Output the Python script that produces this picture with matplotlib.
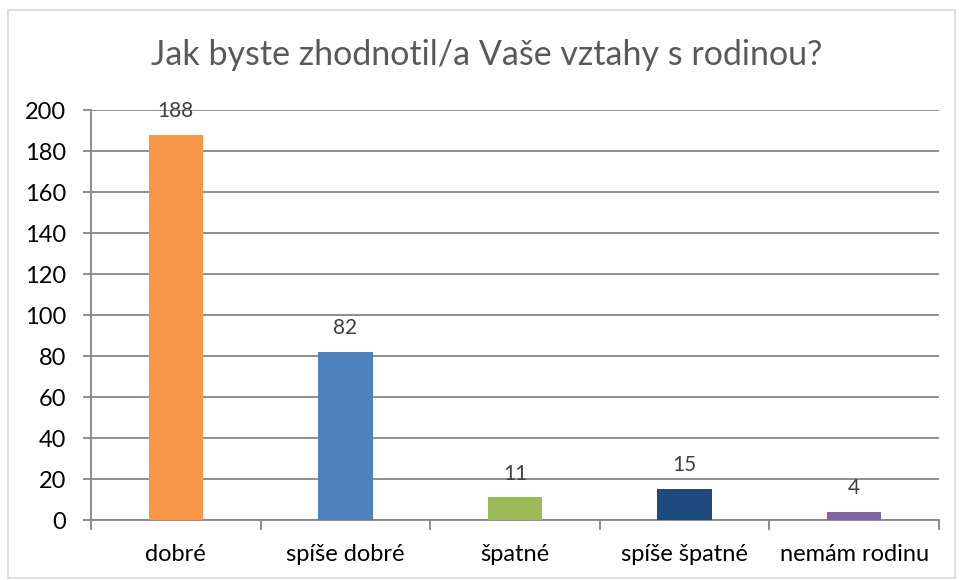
import matplotlib.pyplot as plt
from matplotlib.patches import Rectangle

categories = ['dobré', 'spíše dobré', 'špatné', 'spíše špatné', 'nemám rodinu']
values = [188, 82, 11, 15, 4]
colors = ['#F79646', '#4F81BD', '#9BBB59', '#1F497D', '#8064A2']

plt.rcParams['font.family'] = ['Lato', 'DejaVu Sans']

fig = plt.figure(figsize=(9.59, 5.80), dpi=100)
ax = fig.add_axes([0.0949, 0.1034, 0.8842, 0.7069])

# light outer border of the chart area
fig.patches.append(Rectangle((8 / 959, 2 / 580), 947 / 959, 568 / 580,
                             transform=fig.transFigure, fill=False,
                             edgecolor='#D9D9D9', linewidth=1.2))

x = range(len(categories))
bars = ax.bar(x, values, width=0.32, color=colors, zorder=3)

for b, v in zip(bars, values):
    ax.annotate(str(v), (b.get_x() + b.get_width() / 2, v),
                xytext=(0, 10), textcoords='offset points',
                ha='center', va='bottom', fontsize=15, color='#404040')

ax.set_xlim(-0.5, len(categories) - 0.5)
ax.set_ylim(0, 200)
ax.set_yticks(range(0, 201, 20))
ax.tick_params(axis='y', labelsize=17, length=6, color='#868686', width=1.3, pad=12)
ax.set_xticks(list(x))
ax.set_xticklabels(categories)
ax.tick_params(axis='x', which='major', length=0, labelsize=17, pad=17)
ax.set_xticks([i - 0.5 for i in range(len(categories) + 1)], minor=True)
ax.tick_params(axis='x', which='minor', length=7, color='#868686', width=1.3)

ax.grid(axis='y', color='#868686', linewidth=1.3, zorder=0)
for s in ['top', 'right']:
    ax.spines[s].set_visible(False)
for s in ['left', 'bottom']:
    ax.spines[s].set_color('#868686')
    ax.spines[s].set_linewidth(1.3)

fig.text(0.508, 0.905, 'Jak byste zhodnotil/a Vaše vztahy s rodinou?',
         ha='center', va='center', fontsize=24.5, color='#595959')

fig.savefig('out.png', dpi=100)
